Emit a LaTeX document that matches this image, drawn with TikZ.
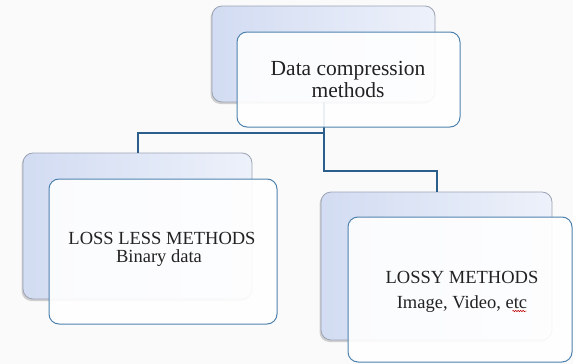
\documentclass[tikz,border=0pt]{standalone}
\usepackage{fontspec}
\setmainfont{Liberation Serif}
\usetikzlibrary{shadows,decorations.pathmorphing}
\definecolor{bgc}{HTML}{FAFAFA}
\definecolor{backl}{HTML}{D2DCF2}
\definecolor{backr}{HTML}{EDF1FA}
\definecolor{backdraw}{HTML}{9CA4B4}
\definecolor{frontdraw}{HTML}{4F83AD}
\definecolor{linkc}{HTML}{2B5E8A}
\definecolor{txtc}{HTML}{222222}
\tikzset{
  backbox/.style={draw=backdraw, line width=0.8pt, rounded corners=10pt,
    left color=backl, right color=backr, minimum width=#1,
    drop shadow={shadow xshift=-1.5pt, shadow yshift=-2pt, opacity=0.35, fill=gray}},
  frontbox/.style={draw=frontdraw, line width=1pt, rounded corners=10pt,
    fill=white, fill opacity=0.9, text opacity=1},
  link/.style={draw=linkc, line width=2pt},
  bigtxt/.style={anchor=base, inner sep=0pt, text=txtc, font=\rmfamily\fontsize{21.5}{22}\selectfont},
  smalltxt/.style={anchor=base, inner sep=0pt, text=txtc, font=\rmfamily\fontsize{18.5}{19}\selectfont},
}
\begin{document}
\begin{tikzpicture}[x=1pt,y=-1pt]
\fill[bgc] (0,0) rectangle (573,364);
\useasboundingbox (0,0) rectangle (573,364);
% back boxes
\node[backbox=223pt, minimum height=96pt] (Tb) at (323.5,54) {};
\node[backbox=229pt, minimum height=146pt] (Lb) at (137.5,226) {};
\node[backbox=231pt, minimum height=148pt] (Rb) at (436.5,266) {};
% connectors
\draw[link] (Tb.south) -- ++(0,31) -| (Lb.north);
\draw[link] (Tb.south) -- ++(0,69) -| (Rb.north);
% front boxes
\node[frontbox, minimum width=223pt, minimum height=95pt] (Tf) at (348.5,79.5) {};
\node[frontbox, minimum width=228pt, minimum height=145pt] (Lf) at (163,251.5) {};
\node[frontbox, minimum width=224pt, minimum height=145pt] (Rf) at (460,289.5) {};
% texts
\node[bigtxt] (t1) at (348,75) {Data compression};
\node[bigtxt] (t2) at (348,97) {methods};
\node[smalltxt] (l1) at (162,244) {LOSS LESS METHODS};
\node[smalltxt] (l2) at (159,262) {Binary data};
\node[smalltxt] (r1) at (462,283) {LOSSY METHODS};
\node[smalltxt] (r2) at (462,308) {Image, Video, etc};
\draw[red!75!black, line width=0.5pt, decorate, decoration={snake, amplitude=0.8pt, segment length=2.5pt}]
  ([xshift=-15pt, yshift=-3pt]r2.base east) -- ([xshift=-1pt, yshift=-3pt]r2.base east);
\end{tikzpicture}
\end{document}
